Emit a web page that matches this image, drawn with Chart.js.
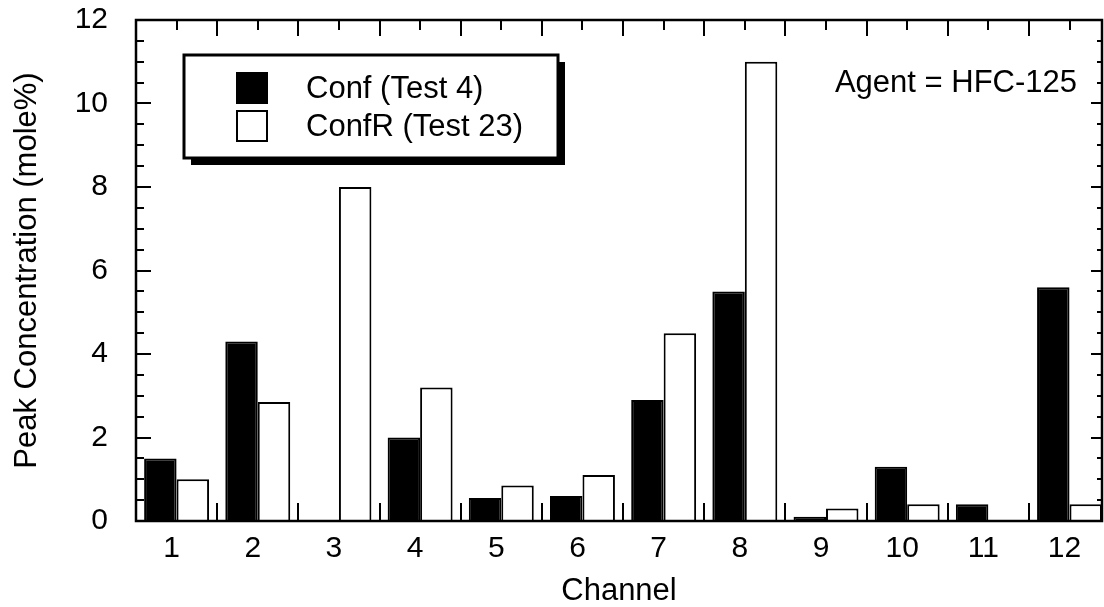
<!DOCTYPE html>
<html>
<head>
<meta charset="utf-8">
<script src="https://cdn.jsdelivr.net/npm/chart.js@4.4.0/dist/chart.umd.min.js"></script>
<style>
html, body { margin: 0; padding: 0; background: #fff; }
</style>
</head>
<body>
<canvas id="bar_chart" width="1104" height="607"></canvas>
<script>
var channels = [1, 2, 3, 4, 5, 6, 7, 8, 9, 10, 11, 12];
var confTest4 = [1.5, 4.3, 0, 2.0, 0.55, 0.6, 2.9, 5.5, 0.1, 1.3, 0.4, 5.6];
var confRTest23 = [1.0, 2.85, 8.0, 3.2, 0.85, 1.1, 4.5, 11.0, 0.3, 0.4, 0, 0.4];
var seriesNames = ["Conf (Test 4)", "ConfR (Test 23)"];
var agentNote = "Agent = HFC-125";

var FONT = '"Liberation Sans", Arial, Helvetica, sans-serif';

function points(values) {
    return channels.map(function (c, i) { return { x: c, y: values[i] }; });
}

// inward ticks, frame, legend box with shadow and the agent note
var decorations = {
    id: 'decorations',
    afterDraw: function (chart) {
        var ctx = chart.ctx, a = chart.chartArea;
        var xs = chart.scales.x, ys = chart.scales.y;
        ctx.save();
        ctx.strokeStyle = '#000';
        ctx.lineWidth = 2;
        ctx.beginPath();
        for (var v = 0; v <= 12; v += 0.5) {
            var py = Math.round(ys.getPixelForValue(v));
            var major = v % 2 === 0;
            ctx.moveTo(a.left, py); ctx.lineTo(a.left + (major ? 15 : 8), py);
            ctx.moveTo(a.right, py); ctx.lineTo(a.right - (major ? 11 : 5), py);
        }
        channels.forEach(function (c) {
            var pc = Math.round(xs.getPixelForValue(c));
            ctx.moveTo(pc, a.top); ctx.lineTo(pc, a.top + 10);
            if (c + 0.5 < xs.max) {
                var pb = Math.round(xs.getPixelForValue(c + 0.5));
                ctx.moveTo(pb, a.bottom); ctx.lineTo(pb, a.bottom - 18);
                ctx.moveTo(pb, a.top); ctx.lineTo(pb, a.top + 16);
            }
        });
        ctx.stroke();

        ctx.lineWidth = 2.5;
        ctx.strokeRect(a.left, a.top, a.right - a.left, a.bottom - a.top);

        // legend
        var bx = 184, by = 55, bw = 374, bh = 103;
        ctx.fillStyle = '#000';
        ctx.fillRect(bx + 7, by + 7, bw, bh);
        ctx.fillStyle = '#fff';
        ctx.fillRect(bx, by, bw, bh);
        ctx.lineWidth = 3;
        ctx.strokeRect(bx, by, bw, bh);

        ctx.font = '31px ' + FONT;
        ctx.textBaseline = 'middle';
        ctx.textAlign = 'left';
        chart.data.datasets.forEach(function (ds, i) {
            var sy = 73 + i * 38;
            ctx.fillStyle = ds.backgroundColor;
            ctx.fillRect(237, sy, 30, 30);
            ctx.lineWidth = 2;
            ctx.strokeStyle = ds.borderColor;
            ctx.strokeRect(237, sy, 30, 30);
            ctx.fillStyle = '#000';
            ctx.fillText(ds.label, 306, sy + 16);
        });

        ctx.textAlign = 'right';
        ctx.fillText(agentNote, 1077, 83);
        ctx.restore();
    }
};

new Chart(document.getElementById("bar_chart").getContext("2d"), {
    type: 'bar',
    data: {
        datasets: [{
            label: seriesNames[0],
            data: points(confTest4),
            backgroundColor: '#000',
            borderColor: '#000',
            borderWidth: 2
        }, {
            label: seriesNames[1],
            data: points(confRTest23),
            backgroundColor: '#fff',
            borderColor: '#000',
            borderWidth: 2
        }]
    },
    options: {
        responsive: false,
        animation: false,
        devicePixelRatio: 1,
        categoryPercentage: 0.8,
        barPercentage: 1.0,
        layout: { padding: { top: 20, right: 2, left: 0, bottom: 0 } },
        plugins: { legend: { display: false }, tooltip: { enabled: false } },
        scales: {
            x: {
                type: 'linear',
                min: 0.5,
                max: 12.4,
                offset: false,
                afterBuildTicks: function (s) {
                    s.ticks = channels.map(function (c) { return { value: c }; });
                },
                afterFit: function (s) {
                    s.height = 86;
                    s.paddingLeft = 0;
                    s.paddingRight = 0;
                },
                ticks: { font: { family: FONT, size: 30 }, color: '#000', padding: 10, labelOffset: -5, autoSkip: false, maxRotation: 0 },
                grid: { display: false, drawTicks: false },
                border: { display: false },
                title: { display: true, text: 'Channel', color: '#000', font: { family: FONT, size: 31 }, padding: { top: 0, bottom: -3 } }
            },
            y: {
                min: 0,
                max: 12,
                afterFit: function (s) {
                    s.width = 136;
                    s.paddingTop = 0;
                    s.paddingBottom = 0;
                },
                ticks: { stepSize: 2, font: { family: FONT, size: 30 }, color: '#000', padding: 28 },
                grid: { display: false, drawTicks: false },
                border: { display: false },
                title: { display: true, text: 'Peak Concentration (mole%)', color: '#000', font: { family: FONT, size: 31 }, padding: { top: 9, bottom: 0 } }
            }
        }
    },
    plugins: [decorations]
});
</script>
</body>
</html>
